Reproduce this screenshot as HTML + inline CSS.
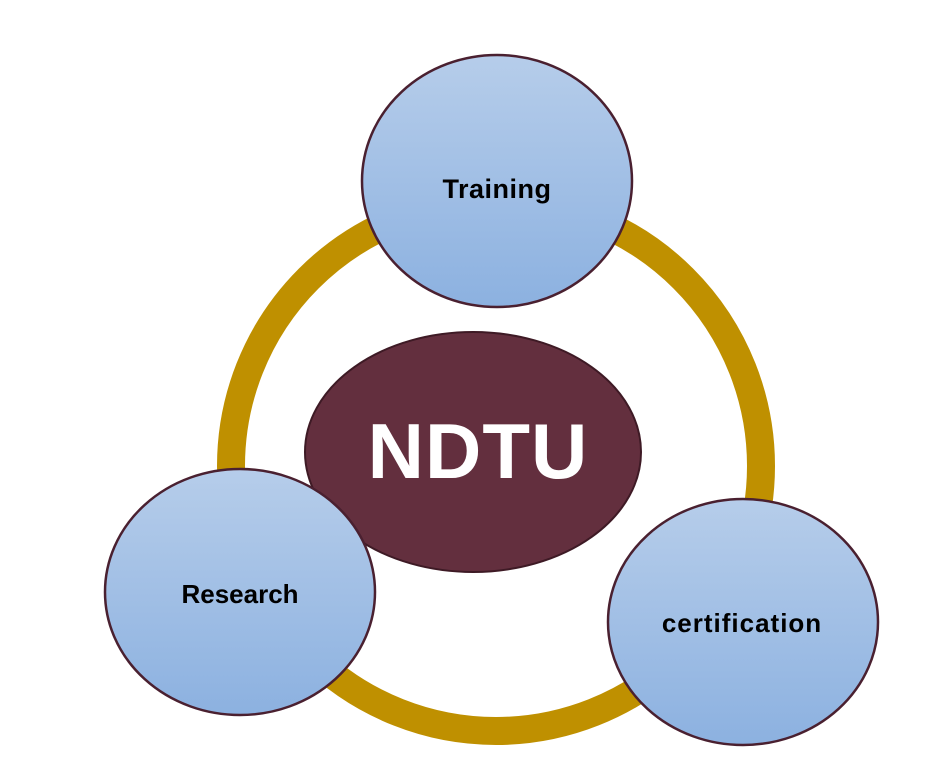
<!DOCTYPE html>
<html><head><meta charset="utf-8"><style>
html,body{margin:0;padding:0;background:#fff;}
svg{display:block;}
</style></head><body>
<svg width="951" height="776" viewBox="0 0 951 776" xmlns="http://www.w3.org/2000/svg">
<defs>
<linearGradient id="g" x1="0" y1="0" x2="0" y2="1">
<stop offset="0" stop-color="#b6cdea"/>
<stop offset="1" stop-color="#8cb1e0"/>
</linearGradient>
</defs>
<rect width="951" height="776" fill="#fff"/>
<circle cx="496" cy="466" r="265" fill="none" stroke="#bf9000" stroke-width="28"/>
<ellipse cx="473" cy="452" rx="168" ry="120" fill="#632f3e" stroke="#3e1a25" stroke-width="2"/>
<text x="478" y="478" font-family="Liberation Sans, sans-serif" font-weight="bold" font-size="78" fill="#fff" text-anchor="middle" letter-spacing="1">NDTU</text>
<ellipse cx="497" cy="181" rx="135" ry="126" fill="url(#g)" stroke="#4a2030" stroke-width="2.5"/>
<text x="497" y="198" font-family="Liberation Sans, sans-serif" font-weight="bold" font-size="27" fill="#000" text-anchor="middle" letter-spacing="0.5">Training</text>
<ellipse cx="240" cy="592" rx="135" ry="123" fill="url(#g)" stroke="#4a2030" stroke-width="2.5"/>
<text x="240" y="603" font-family="Liberation Sans, sans-serif" font-weight="bold" font-size="26" fill="#000" text-anchor="middle">Research</text>
<ellipse cx="743" cy="622" rx="135" ry="123" fill="url(#g)" stroke="#4a2030" stroke-width="2.5"/>
<text x="742" y="632" font-family="Liberation Sans, sans-serif" font-weight="bold" font-size="26" fill="#000" text-anchor="middle" letter-spacing="1">certification</text>
</svg>
</body></html>
